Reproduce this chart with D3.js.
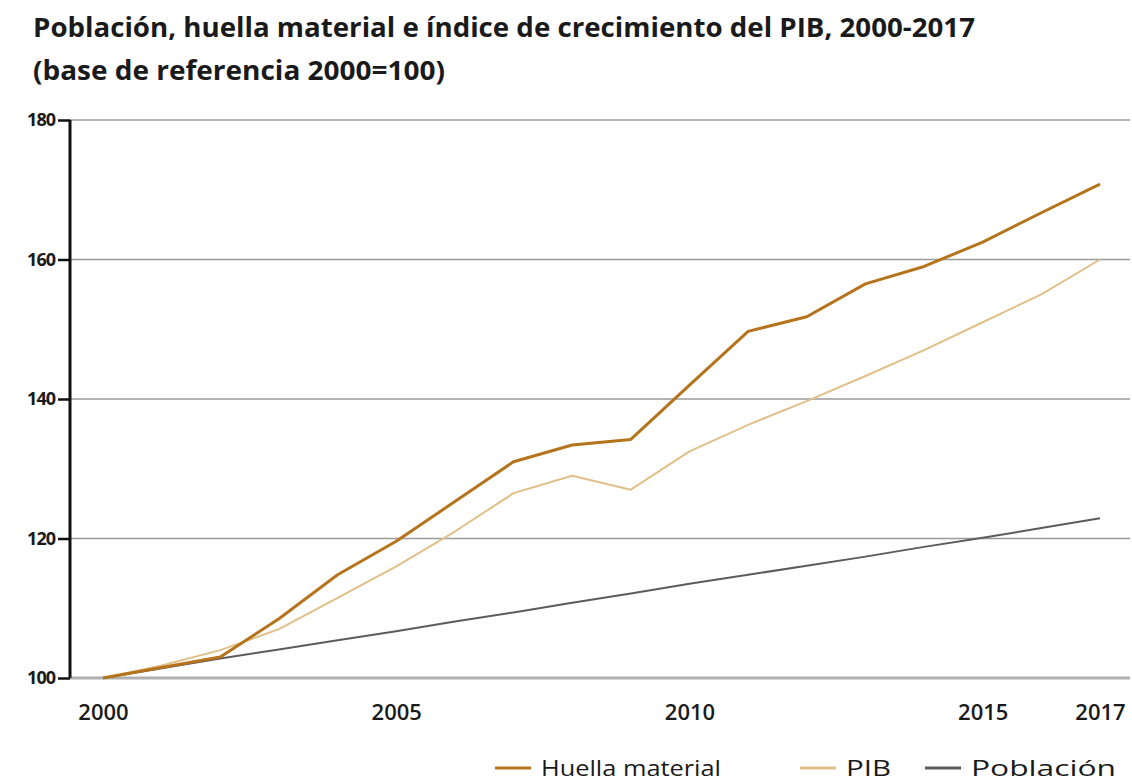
<!DOCTYPE html>
<html>
<head>
<meta charset="utf-8">
<script src="https://cdn.jsdelivr.net/npm/d3@7"></script>
<style>
  body { margin: 0; background: #fff; }
  text { font-family: "Open Sans", "DejaVu Sans", sans-serif; fill: #1a1a1a; }
</style>
</head>
<body>
<div id="chart"></div>
<script>
(function() {
  var width = 1132,
    height = 781;

  var years = d3.range(2000, 2018);
  var huella = [100, 101.5, 103, 108.5, 114.8, 119.6, 125.3, 131, 133.4, 134.2, 142, 149.7, 151.8, 156.5, 159, 162.5, 166.7, 170.8];
  var pib = [100, 101.8, 104, 107, 111.5, 116, 121, 126.5, 129, 127, 132.5, 136.3, 139.7, 143.3, 147, 151, 155, 160];
  var poblacion = [100, 101.4, 102.8, 104.1, 105.4, 106.7, 108.1, 109.4, 110.8, 112.1, 113.5, 114.8, 116.1, 117.4, 118.8, 120.1, 121.5, 122.9];
  var xTicks = [2000, 2005, 2010, 2015, 2017];
  var yTicks = [100, 120, 140, 160, 180];
  var seriesNames = ["Huella material", "PIB", "Población"];
  var colors = ["#b5741c", "#dfc089", "#5c5c5c"];
  var widths = [3, 2, 2];

  var svg = d3.select("#chart")
    .append("svg")
    .attr("width", width)
    .attr("height", height)

  var x = d3.scaleLinear().domain([2000, 2017]).range([103, 1100])
  var y = d3.scaleLinear().domain([100, 180]).range([678, 120])

  // title
  svg.append("text")
    .attr("x", 33).attr("y", 37)
    .attr("font-size", 26).attr("font-weight", "bold")
    .attr("textLength", 942).attr("lengthAdjust", "spacingAndGlyphs")
    .text("Población, huella material e índice de crecimiento del PIB, 2000-2017")
  svg.append("text")
    .attr("x", 33).attr("y", 80)
    .attr("font-size", 26).attr("font-weight", "bold")
    .attr("textLength", 412).attr("lengthAdjust", "spacingAndGlyphs")
    .text("(base de referencia 2000=100)")

  // gridlines
  svg.append("g")
    .selectAll("line")
    .data(yTicks.filter(function(d) { return d > 100 }))
    .enter().append("line")
    .attr("x1", 70).attr("x2", 1130)
    .attr("y1", function(d) { return y(d) })
    .attr("y2", function(d) { return y(d) })
    .attr("stroke", "#9a9a9a")
    .attr("stroke-width", 1.5)

  // bottom baseline
  svg.append("line")
    .attr("x1", 70).attr("x2", 1130)
    .attr("y1", y(100)).attr("y2", y(100))
    .attr("stroke", "#b0b0b0")
    .attr("stroke-width", 3)

  // y axis
  var yAxis = svg.append("g")
    .attr("transform", "translate(70,0)")
    .call(d3.axisLeft(y).tickValues(yTicks).tickSize(12).tickPadding(3))
  yAxis.select(".domain").attr("stroke", "#111").attr("stroke-width", 3)
    .attr("d", "M0," + y(180) + "V" + y(100))
  yAxis.selectAll(".tick line").attr("stroke", "#111").attr("stroke-width", 2.5)
  yAxis.selectAll(".tick text")
    .attr("font-size", 18).attr("font-weight", "bold")
    .attr("font-family", "\"Open Sans\", sans-serif")
    .attr("letter-spacing", -1)
    .attr("fill", "#333")

  // x axis labels
  var xAxis = svg.append("g")
    .attr("transform", "translate(0," + y(100) + ")")
    .call(d3.axisBottom(x).tickValues(xTicks).tickFormat(d3.format("d")).tickSize(0).tickPadding(26))
  xAxis.select(".domain").remove()
  xAxis.selectAll(".tick text")
    .attr("font-size", 22).attr("font-weight", 600)
    .attr("font-family", "\"Open Sans\", sans-serif")
    .attr("fill", "#222")

  // lines
  var line = d3.line()
    .x(function(d, i) { return x(years[i]) })
    .y(function(d) { return y(d) })

  var allSeries = [poblacion, pib, huella];
  var order = [2, 1, 0];
  svg.append("g")
    .selectAll("path")
    .data(allSeries)
    .enter().append("path")
    .attr("d", line)
    .attr("fill", "none")
    .attr("stroke", function(d, i) { return colors[order[i]] })
    .attr("stroke-width", function(d, i) { return widths[order[i]] })
    .attr("stroke-linejoin", "round")

  // legend
  var legendX = [495, 800, 925];
  var legendLen = [180, 45, 145];
  var legend = svg.append("g")
    .selectAll("g")
    .data(seriesNames)
    .enter().append("g")
    .attr("transform", function(d, i) { return "translate(" + legendX[i] + ",768)" })
  legend.append("line")
    .attr("x1", 0).attr("x2", 36)
    .attr("stroke", function(d, i) { return colors[i] })
    .attr("stroke-width", 3)
  legend.append("text")
    .attr("x", 46).attr("y", 8)
    .attr("font-size", 22)
    .attr("textLength", function(d, i) { return legendLen[i] })
    .attr("lengthAdjust", "spacingAndGlyphs")
    .attr("fill", "#222")
    .text(function(d) { return d })
})();
</script>
</body>
</html>
